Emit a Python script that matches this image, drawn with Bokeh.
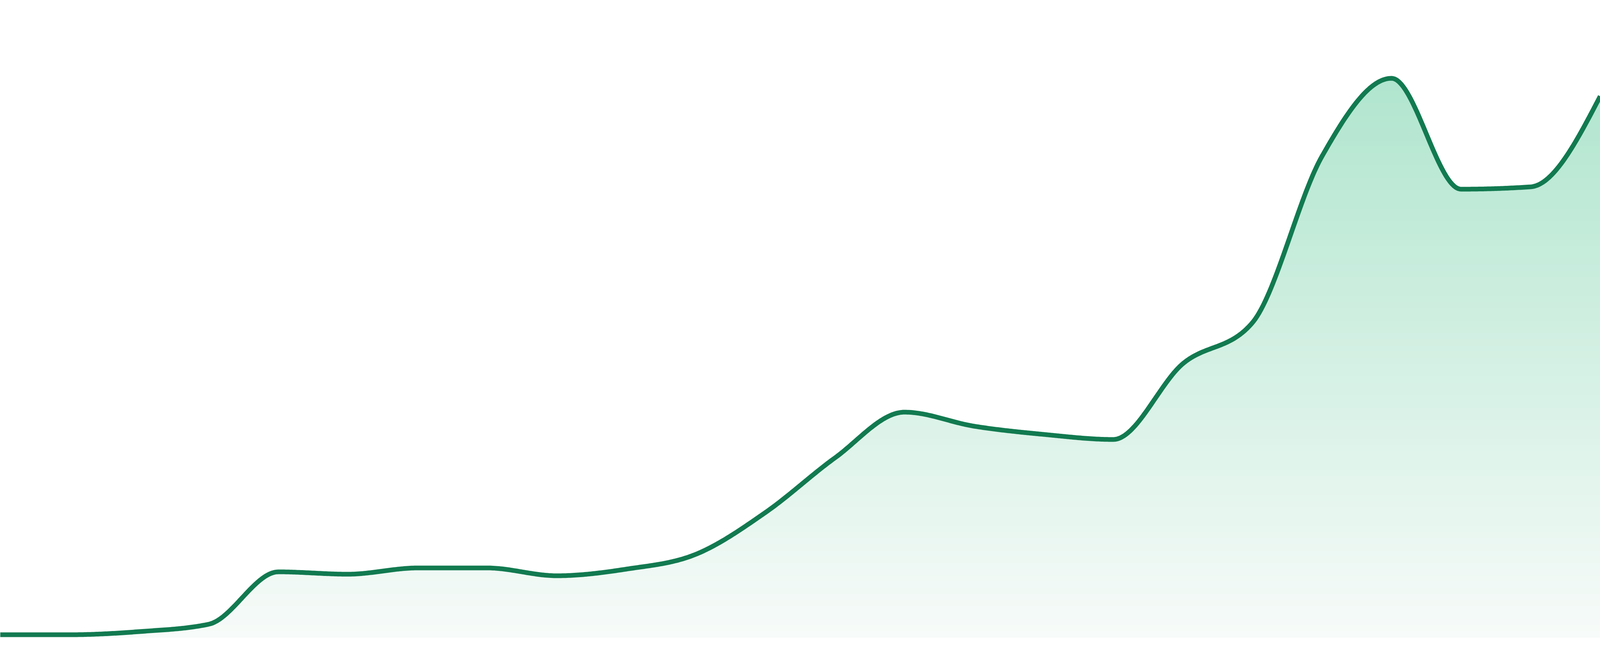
import numpy as np
from bokeh.plotting import figure
from bokeh.models import Range1d
from bokeh.embed import file_html
from bokeh.resources import INLINE

periods = list(range(24))
values = [0.7, 0.7, 1.5, 3.4, 16.8, 16.2, 17.8, 17.8, 15.8, 17.5, 21.3, 32.0,
          46.0, 57.7, 54.1, 52.0, 50.7, 70.1, 80.6, 123.2, 143.2, 114.8, 115.4, 138.6]

LINE_COLOR = "#127a50"
TOP_RGB = (176, 229, 206)
BOTTOM_RGB = (247, 251, 249)


def monotone_curve(xs, ys, samples=48):
    """Cubic monotone (d3 curveMonotoneX style) path through the points."""
    xs = np.asarray(xs, float)
    ys = np.asarray(ys, float)
    n = len(xs)
    h = np.diff(xs)
    s = np.diff(ys) / h
    t = np.zeros(n)
    for i in range(1, n - 1):
        h0, h1 = h[i - 1], h[i]
        s0, s1 = s[i - 1], s[i]
        p = (s0 * h1 + s1 * h0) / (h0 + h1)
        sg0 = -1 if s0 < 0 else 1
        sg1 = -1 if s1 < 0 else 1
        t[i] = (sg0 + sg1) * min(abs(s0), abs(s1), 0.5 * abs(p))
    t[0] = (3 * s[0] - t[1]) / 2
    t[-1] = (3 * s[-1] - t[-2]) / 2
    px, py = [], []
    u = np.linspace(0, 1, samples)
    for i in range(n - 1):
        x0, y0, x3, y3 = xs[i], ys[i], xs[i + 1], ys[i + 1]
        dx = (x3 - x0) / 3
        x1, y1 = x0 + dx, y0 + dx * t[i]
        x2, y2 = x3 - dx, y3 - dx * t[i + 1]
        uu = u if i == 0 else u[1:]
        a = (1 - uu) ** 3
        b = 3 * (1 - uu) ** 2 * uu
        c = 3 * (1 - uu) * uu ** 2
        d = uu ** 3
        px.append(a * x0 + b * x1 + c * x2 + d * x3)
        py.append(a * y0 + b * y1 + c * y2 + d * y3)
    return np.concatenate(px), np.concatenate(py)


cx, cy = monotone_curve(periods, values)

p = figure(sizing_mode="stretch_both", output_backend="svg", toolbar_location=None,
           x_range=Range1d(periods[0], periods[-1]), y_range=Range1d(-4.8, 163.2),
           x_axis_location=None, y_axis_location=None, min_border=0)
p.grid.visible = False
p.outline_line_color = None
p.background_fill_color = "white"
p.border_fill_color = "white"

# vertical gradient fill, built from stacked layers
vmax = max(values)
N = 90
for k in range(N - 1, -1, -1):
    hi = vmax * (k + 1) / N
    f = (k + 0.5) / N
    r = int(round(BOTTOM_RGB[0] + f * (TOP_RGB[0] - BOTTOM_RGB[0])))
    g = int(round(BOTTOM_RGB[1] + f * (TOP_RGB[1] - BOTTOM_RGB[1])))
    b = int(round(BOTTOM_RGB[2] + f * (TOP_RGB[2] - BOTTOM_RGB[2])))
    col = "#%02x%02x%02x" % (r, g, b)
    p.varea(x=cx, y1=np.zeros_like(cy), y2=np.minimum(cy, hi), fill_color=col)

p.line(cx, cy, line_color=LINE_COLOR, line_width=12, line_join="round")

open("out.html", "w").write(file_html(p, INLINE))
